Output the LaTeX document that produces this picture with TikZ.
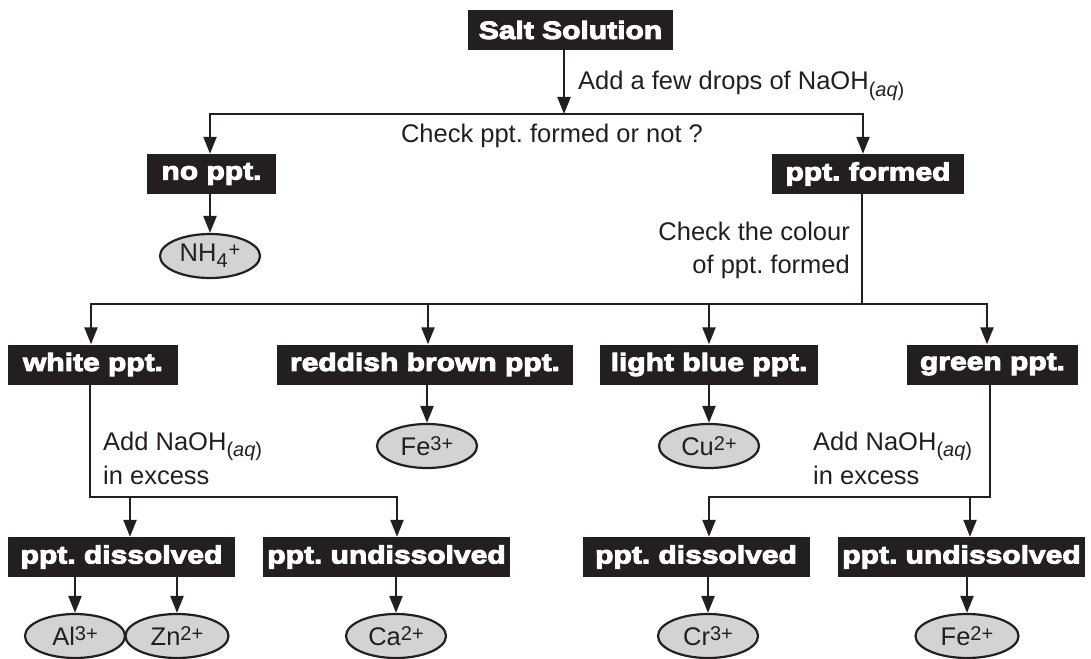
\documentclass[tikz,border=0pt]{standalone}
\usepackage{fontspec}
\setmainfont{Liberation Sans}
\newfontfamily\heavy{Liberation Sans Bold}[FakeStretch=1.2,FakeBold=4]
\usetikzlibrary{arrows.meta,shapes.geometric}
\definecolor{ink}{HTML}{231F20}
\definecolor{ovalgray}{HTML}{D1D3D4}
\newcommand\ionsup[1]{\raisebox{5pt}{\fontsize{20}{20}\selectfont #1}}
\newcommand\ionsub[1]{\raisebox{-6pt}{\fontsize{20}{20}\selectfont #1}}
\frenchspacing
\begin{document}
\begin{tikzpicture}[x=1pt,y=-1pt,
  blk/.style={fill=ink, text=white, inner sep=0pt, minimum height=40pt, font=\heavy\fontsize{25}{28}\selectfont},
  ion/.style={ellipse, draw=ink, fill=ovalgray, line width=2.2pt, inner sep=0pt, minimum width=100pt, minimum height=44pt, text=ink, font=\fontsize{25.5}{30}\selectfont},
  lbl/.style={font=\fontsize{25.5}{30}\selectfont, text=ink, inner sep=0pt},
  ln/.style={draw=ink, line width=2.3pt},
  arr/.style={ln, -{Triangle[length=17pt,width=13pt]}}]
\useasboundingbox (0,0) rectangle (1091,658);

% boxes
\node[blk, minimum width=205pt] (salt) at (570.5,30) {Salt Solution};
\node[blk, minimum width=129pt] (noppt) at (211.5,174) {no ppt.};
\node[blk, minimum width=192pt] (formed) at (868,174) {ppt. formed};
\node[blk, minimum width=170pt] (white) at (93,364.5) {white ppt.};
\node[blk, minimum width=296pt] (red) at (425,364.5) {reddish brown ppt.};
\node[blk, minimum width=218pt] (blue) at (709,364.5) {light blue ppt.};
\node[blk, minimum width=171pt] (green) at (992.5,364.5) {green ppt.};
\node[blk, minimum width=227pt] (disL) at (121.5,557) {ppt. dissolved};
\node[blk, minimum width=247pt] (undL) at (386.5,557) {ppt. undissolved};
\node[blk, minimum width=227pt] (disR) at (696,557) {ppt. dissolved};
\node[blk, minimum width=247pt] (undR) at (961.5,557) {ppt. undissolved};

% ions
\node[ion] (nh4) at (210,256) {NH\ionsub{4}\hspace{1pt}\ionsup{+}};
\node[ion] (fe3) at (427,446) {Fe\ionsup{3+}};
\node[ion] (cu2) at (709,446) {Cu\ionsup{2+}};
\node[ion] (al3) at (75,636) {Al\ionsup{3+}};
\node[ion, minimum width=103pt] (zn2) at (177,636) {Zn\ionsup{2+}};
\node[ion] (ca2) at (396,636) {Ca\ionsup{2+}};
\node[ion] (cr3) at (708,636) {Cr\ionsup{3+}};
\node[ion, minimum width=103pt] (fe2) at (967,636) {Fe\ionsup{2+}};

% labels
\node[lbl, anchor=base west] (t1) at (578,90) {Add a few drops of NaOH\ionsub{(\textit{aq})}};
\node[lbl, anchor=base] (t2) at (552,142) {Check ppt. formed or not ?};
\node[lbl, anchor=base east] (t3a) at (850,240) {Check the colour};
\node[lbl, anchor=base east] (t3b) at (850,273) {of ppt. formed};
\node[lbl, anchor=base west] (t4a) at (103,450) {Add NaOH\ionsub{(\textit{aq})}};
\node[lbl, anchor=base west] (t4b) at (103,484) {in excess};
\node[lbl, anchor=base west] (t5a) at (813,450) {Add NaOH\ionsub{(\textit{aq})}};
\node[lbl, anchor=base west] (t5b) at (813,484) {in excess};

% junction coordinates
\coordinate (h1m) at (564,114);
\coordinate (h1l) at (210,114);
\coordinate (h1r) at (863,114);
\coordinate (f1) at (862,304);
\coordinate (h2l) at (91,304);
\coordinate (h2b) at (428,304);
\coordinate (h2c) at (709,304);
\coordinate (h2r) at (987,304);
\coordinate (w1) at (90,497);
\coordinate (w2) at (397,497);
\coordinate (w3) at (130,497);
\coordinate (g1) at (990,497);
\coordinate (g2) at (709,497);
\coordinate (g3) at (970,497);

% connectors
\draw[arr] (salt.south -| h1m) -- (h1m);
\draw[arr] (h1m) -- (h1l) -- (noppt.north -| h1l);
\draw[arr] (h1m) -- (h1r) -- (formed.north -| h1r);
\draw[arr] (noppt.south -| nh4.north) -- (nh4.north);

\draw[arr] (formed.south -| f1) -- (f1) -- (h2r) -- (green.north -| h2r);
\draw[arr] (f1) -- (h2l) -- (white.north -| h2l);
\draw[arr] (h2b) -- (red.north -| h2b);
\draw[arr] (h2c) -- (blue.north -| h2c);
\draw[arr] (red.south -| fe3.north) -- (fe3.north);
\draw[arr] (blue.south -| cu2.north) -- (cu2.north);

\draw[arr] (white.south -| w1) -- (w1) -- (w2) -- (undL.north -| w2);
\draw[arr] (w3) -- (disL.north -| w3);
\draw[arr] (green.south -| g1) -- (g1) -- (g2) -- (disR.north -| g2);
\draw[arr] (g3) -- (undR.north -| g3);

\draw[arr] (disL.south -| al3.north) -- (al3.north);
\draw[arr] (disL.south -| zn2.north) -- (zn2.north);
\draw[arr] (undL.south -| ca2.north) -- (ca2.north);
\draw[arr] (disR.south -| cr3.north) -- (cr3.north);
\draw[arr] (undR.south -| fe2.north) -- (fe2.north);
\end{tikzpicture}
\end{document}
